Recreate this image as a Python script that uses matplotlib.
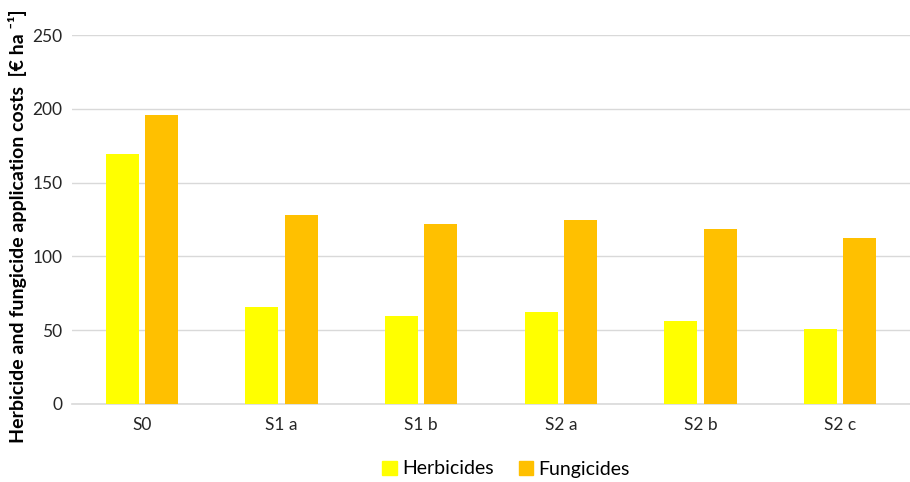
import numpy as np
import matplotlib
matplotlib.use("Agg")
import matplotlib.pyplot as plt
from matplotlib.patches import Patch

# values
scenarios = ["S0", "S1 a", "S1 b", "S2 a", "S2 b", "S2 c"]
herbicides = [169.5, 65.5, 59.5, 62.5, 56.5, 50.8]
fungicides = [196, 128, 122, 124.8, 118.7, 112.5]
y_ticks = [0, 50, 100, 150, 200, 250]

plt.rcParams["font.family"] = ["Lato", "DejaVu Sans"]

fig = plt.figure(figsize=(9.1, 4.82), dpi=100)
ax = fig.add_axes([72 / 910, 1 - 404 / 482, 838 / 910, 369 / 482])

x = np.arange(len(scenarios))
w = 0.236
ax.bar(x - 0.14, herbicides, width=w, color="#ffff00", zorder=3)
ax.bar(x + 0.14, fungicides, width=w, color="#ffc000", zorder=3)

ax.set_xlim(-0.5, len(scenarios) - 0.5)
ax.set_ylim(0, 250)
ax.set_yticks(y_ticks)
ax.set_xticks(x)
ax.set_xticklabels(scenarios)
ax.tick_params(length=0, labelsize=12.5, pad=9)
ax.tick_params(axis="y", pad=7)
for lbl in ax.get_xticklabels() + ax.get_yticklabels():
    lbl.set_color("#262626")

ax.grid(axis="y", color="#d9d9d9", linewidth=1, zorder=0)
for s in ["top", "right", "left"]:
    ax.spines[s].set_visible(False)
ax.spines["bottom"].set_color("#d9d9d9")
ax.spines["bottom"].set_linewidth(1.2)

fig.text(18 / 910, 1 - 226 / 482,
         "Herbicide and fungicide application costs  [€ ha ⁻¹]",
         rotation=90, ha="center", va="center", fontsize=14,
         fontweight="bold", color="black")

handles = [Patch(color="#ffff00", label="Herbicides"),
           Patch(color="#ffc000", label="Fungicides")]
fig.legend(handles=handles, loc="center", bbox_to_anchor=(506 / 910, 1 - 469 / 482),
           ncol=2, frameon=False, fontsize=14, handlelength=0.75, handleheight=0.75,
           handletextpad=0.25, columnspacing=1.3)

fig.savefig("out.png", dpi=100)
